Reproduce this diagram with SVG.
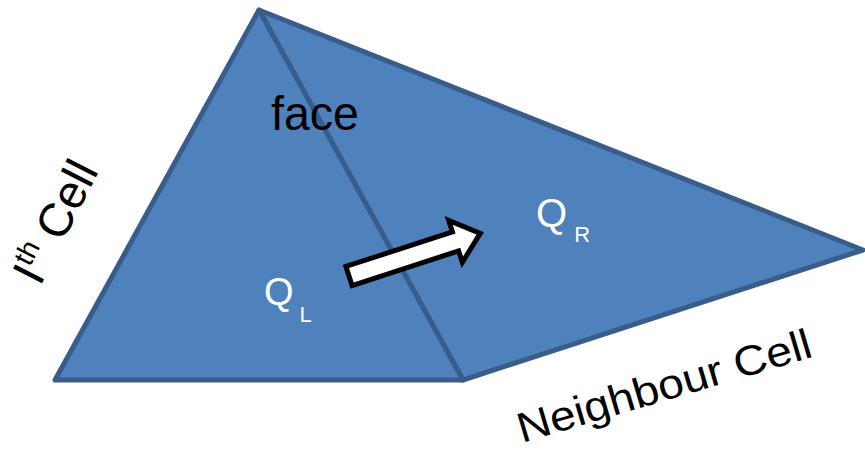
<svg xmlns="http://www.w3.org/2000/svg" width="865" height="451" viewBox="0 0 865 451">
<style>
.cell{fill:#4F81BD;stroke:#385D8A;stroke-width:5;stroke-linejoin:round}
.t{font-family:"Liberation Sans",Arial,sans-serif}
.blk{fill:#000}
.wht{fill:#fff}
</style>
<rect width="865" height="451" fill="#fff"/>
<g id="neighbour-cell">
<polygon class="cell" points="259,10 863,250 463,380"/>
</g>
<g id="ith-cell">
<polygon class="cell" points="259,10 55,380 463,380"/>
</g>
<g id="connectors">
<polygon transform="translate(349,276) rotate(-18)" points="0,-10 112,-10 112,-22 138,0 112,22 112,10 0,10" fill="#fff" stroke="#000" stroke-width="5" stroke-linejoin="miter"/>
</g>
<g id="labels">
<text class="t blk" x="271" y="130" font-size="48" textLength="88" lengthAdjust="spacingAndGlyphs">face</text>
<text class="t wht" x="264" y="305" font-size="38">Q<tspan font-size="22" dx="6" dy="17">L</tspan></text>
<text class="t wht" x="536" y="227" font-size="40">Q<tspan font-size="22" dx="7" dy="15">R</tspan></text>
<text class="t blk" transform="translate(40,287) rotate(-63)" font-size="47">I<tspan font-size="28" dy="-18">th</tspan><tspan dy="18"> Cell</tspan></text>
<text class="t blk" transform="translate(522,443) rotate(-16.5)" font-size="42" textLength="305" lengthAdjust="spacingAndGlyphs">Neighbour Cell</text>
</g>
</svg>
